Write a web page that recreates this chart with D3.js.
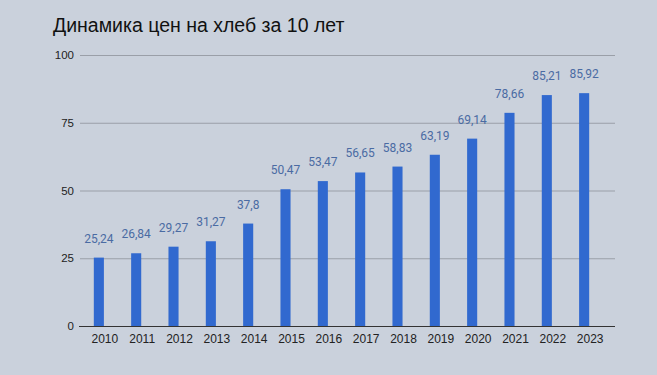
<!DOCTYPE html>
<html>
<head>
<meta charset="utf-8">
<script src="https://cdn.jsdelivr.net/npm/d3@7"></script>
<style>
  body { margin: 0; background: #cad1dc; }
  svg { display: block; }
</style>
</head>
<body>
<svg id="chart" width="657" height="375"></svg>
<script>
// Data
var years = ["2010", "2011", "2012", "2013", "2014", "2015", "2016",
             "2017", "2018", "2019", "2020", "2021", "2022", "2023"];
var prices = [25.24, 26.84, 29.27, 31.27, 37.8, 50.47, 53.47,
              56.65, 58.83, 63.19, 69.14, 78.66, 85.21, 85.92];
var yTicks = [0, 25, 50, 75, 100];

var svg = d3.select("#chart"),
    width = +svg.attr("width"),
    height = +svg.attr("height");

svg.append("rect")
    .attr("width", width)
    .attr("height", height)
    .attr("fill", "#cad1dc");

// Title
svg.append("text")
    .attr("x", 53)
    .attr("y", 32)
    .attr("font-family", "Liberation Sans, Arial, sans-serif")
    .attr("font-size", 19.5)
    .attr("fill", "#111")
    .text("Динамика цен на хлеб за 10 лет");

var x = d3.scaleBand()
    .domain(years)
    .range([80, 603])
    .paddingInner(0.73)
    .paddingOuter(0.37);

var y = d3.scaleLinear()
    .domain([0, 100])
    .range([326, 55]);

// Gridlines
svg.append("g")
    .selectAll("line")
    .data(yTicks.filter(function (d) { return d > 0; }))
    .enter().append("line")
    .attr("x1", 80)
    .attr("x2", 615)
    .attr("y1", function (d) { return y(d) + 0.5; })
    .attr("y2", function (d) { return y(d) + 0.5; })
    .attr("stroke", "#9a9fa8")
    .attr("stroke-width", 1);

// Y tick labels
svg.append("g")
    .selectAll("text")
    .data(yTicks)
    .enter().append("text")
    .attr("x", 74)
    .attr("y", function (d) { return y(d) + 4; })
    .attr("text-anchor", "end")
    .attr("font-family", "Liberation Sans, Arial, sans-serif")
    .attr("font-size", 11.5)
    .attr("fill", "#222")
    .text(function (d) { return d; });

// Bars
svg.append("g")
    .selectAll("rect")
    .data(prices)
    .enter().append("rect")
    .attr("x", function (d, i) { return x(years[i]); })
    .attr("width", x.bandwidth())
    .attr("y", function (d) { return y(d); })
    .attr("height", function (d) { return y(0) - y(d); })
    .attr("fill", "#3169cf");

// Value labels
svg.append("g")
    .selectAll("text")
    .data(prices)
    .enter().append("text")
    .attr("x", function (d, i) { return x(years[i]) + x.bandwidth() / 2; })
    .attr("y", function (d) { return y(d) - 15; })
    .attr("text-anchor", "middle")
    .attr("font-family", "Roboto, sans-serif")
    .attr("font-size", 12)
    .attr("fill", "#4a6ba3")
    .text(function (d) { return String(d).replace(".", ","); });

// X axis line
svg.append("line")
    .attr("x1", 79)
    .attr("x2", 615)
    .attr("y1", y(0) + 0.5)
    .attr("y2", y(0) + 0.5)
    .attr("stroke", "#333")
    .attr("stroke-width", 1);

// X tick labels
svg.append("g")
    .selectAll("text")
    .data(years)
    .enter().append("text")
    .attr("x", function (d) { return x(d) + x.bandwidth() / 2 + 6; })
    .attr("y", 343)
    .attr("text-anchor", "middle")
    .attr("font-family", "Liberation Sans, Arial, sans-serif")
    .attr("font-size", 12)
    .attr("fill", "#222")
    .text(function (d) { return d; });
</script>
</body>
</html>
